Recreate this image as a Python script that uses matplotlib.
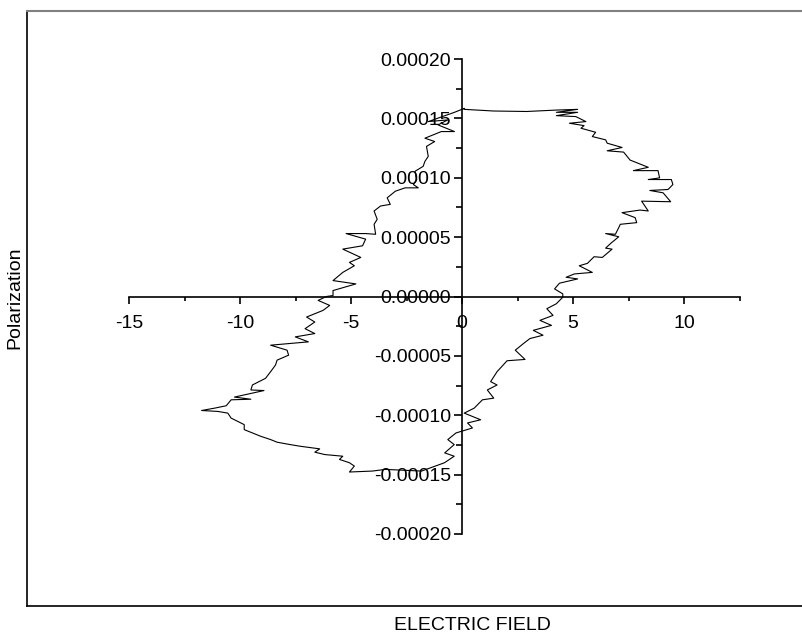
import matplotlib
matplotlib.use("Agg")
import matplotlib.pyplot as plt
from matplotlib.ticker import MultipleLocator, FormatStrFormatter
from matplotlib.lines import Line2D

plt.rcParams['font.family'] = ['Liberation Sans', 'DejaVu Sans']
plt.rcParams['axes.unicode_minus'] = False

# - hysteresis loop (field, polarization) - #
field = [
    0.10, 1.43, 2.91, 4.25, 5.21, 4.25, 5.21, 4.25, 5.13, 5.58, 4.84, 5.50, 5.36, 6.02, 5.87,
    6.47, 6.54, 7.21, 6.54, 7.28, 7.57, 8.39, 7.72, 8.83, 8.90, 8.39, 9.43, 9.50, 9.28, 8.46,
    9.06, 9.40, 8.09, 8.39, 8.02, 7.21, 7.80, 7.87, 7.13, 7.06, 6.91, 6.47, 7.06, 6.69, 6.47,
    6.76, 6.32, 5.95, 5.65, 5.28, 5.87, 5.06, 4.69, 5.21, 4.39, 4.17, 4.54,
    4.54, 4.25, 3.82, 4.10, 3.51, 4.03, 3.21, 3.65, 3.06, 2.77, 2.40, 2.84, 2.03, 1.58,
    1.29, 1.58, 1.14, 1.43, 0.92, 0.55, 0.10, 0.84, 0.25, 0.47, -0.27, -0.64, -0.35, -0.78, -0.35,
    -0.79, -1.82, -3.45, -4.04, -5.07, -4.85, -5.07, -5.52, -5.37, -6.18, -6.63, -6.41, -7.29,
    -7.74, -8.33, -8.62, -9.07, -9.81, -9.81, -10.40, -10.55, -10.99, -11.73, -11.14, -10.62,
    -10.40, -9.51, -10.25, -8.92, -9.51, -9.44, -8.85, -8.62, -8.40, -8.33, -7.81, -7.88, -8.62,
    -6.92, -7.51, -6.63, -7.07, -6.63, -7.00, -6.26, -5.96, -6.48, -6.11,
    -5.81, -5.81, -4.78, -5.81, -5.37, -4.85, -5.07, -4.56, -5.37, -4.48, -4.34, -5.22, -4.34,
    -3.89, -3.96, -3.82, -3.96, -3.67, -3.23, -3.37, -3.00, -2.56, -1.97, -2.19, -2.04, -2.12,
    -1.75, -1.67, -1.52, -1.60, -1.23, -1.67, -0.93, -0.34, -1.08, -0.64, -1.52, -0.34, 0.10,
]
polarization = [
    15.76e-5, 15.62e-5, 15.58e-5, 15.70e-5, 15.76e-5, 15.51e-5, 15.51e-5, 15.23e-5, 15.15e-5,
    14.73e-5, 14.59e-5, 14.39e-5, 14.17e-5, 13.83e-5, 13.47e-5, 13.19e-5, 12.91e-5, 12.55e-5,
    12.27e-5, 12.16e-5, 11.49e-5, 10.88e-5, 10.60e-5, 10.60e-5, 9.99e-5, 9.85e-5, 9.85e-5,
    9.43e-5, 9.01e-5, 8.93e-5, 8.73e-5, 7.98e-5, 8.03e-5, 7.20e-5, 7.28e-5, 7.06e-5, 6.64e-5,
    6.22e-5, 6.08e-5, 5.80e-5, 5.24e-5, 5.30e-5, 5.03e-5, 4.46e-5, 4.07e-5, 3.99e-5, 3.29e-5,
    3.35e-5, 2.79e-5, 2.59e-5, 2.03e-5, 1.90e-5, 1.62e-5, 1.48e-5, 1.12e-5, 0.64e-5, 0.22e-5,
    -0.06e-5, -0.61e-5, -1.03e-5, -1.59e-5, -2.01e-5, -2.43e-5, -2.85e-5, -3.26e-5, -3.54e-5,
    -3.96e-5, -4.52e-5, -5.30e-5, -5.41e-5, -6.33e-5, -7.17e-5, -7.45e-5, -7.87e-5, -8.56e-5,
    -8.70e-5, -9.40e-5, -9.82e-5, -10.38e-5, -10.65e-5, -11.07e-5, -11.49e-5, -12.05e-5,
    -12.47e-5, -13.17e-5, -13.45e-5,
    -14.00e-5, -14.70e-5, -14.56e-5, -14.70e-5, -14.78e-5, -14.28e-5, -14.00e-5, -13.72e-5,
    -13.45e-5, -13.31e-5, -13.11e-5, -12.83e-5, -12.61e-5, -12.47e-5, -12.27e-5, -12.05e-5,
    -11.77e-5, -11.21e-5, -10.79e-5, -10.24e-5, -9.82e-5, -9.68e-5, -9.60e-5, -9.40e-5,
    -9.20e-5, -8.70e-5, -8.65e-5, -8.47e-5, -7.92e-5, -7.87e-5, -7.45e-5, -6.89e-5, -6.33e-5,
    -5.77e-5, -5.36e-5, -4.94e-5, -4.52e-5, -4.10e-5, -3.82e-5, -3.40e-5, -3.12e-5, -2.71e-5,
    -2.15e-5, -1.73e-5, -1.17e-5, -0.75e-5, -0.33e-5, 0.00,
    0.08e-5, 0.50e-5, 1.06e-5, 1.34e-5, 2.03e-5, 2.59e-5, 2.87e-5, 3.29e-5, 3.99e-5, 4.27e-5,
    4.83e-5, 5.30e-5, 5.30e-5, 5.24e-5, 6.08e-5, 6.50e-5, 7.20e-5, 7.62e-5, 7.76e-5, 8.31e-5,
    8.87e-5, 9.15e-5, 9.15e-5, 9.43e-5, 9.85e-5, 10.54e-5, 10.96e-5, 11.38e-5, 11.80e-5,
    12.64e-5, 13.05e-5, 13.33e-5, 13.89e-5, 13.89e-5, 14.45e-5, 14.87e-5, 14.73e-5, 15.51e-5,
    15.84e-5,
]

fig = plt.figure(figsize=(8.02, 6.35), dpi=100)
ax = fig.add_axes([129 / 802, 1 - 534 / 635, (739.5 - 129) / 802, (534 - 59) / 635])

ax.plot(field, polarization, color='black', linewidth=0.8)

ax.set_xlim(-15, 12.5)
ax.set_ylim(-0.0002, 0.0002)

# axes crossing at the origin
ax.spines['left'].set_position(('data', 0))
ax.spines['bottom'].set_position(('data', 0))
ax.spines['top'].set_visible(False)
ax.spines['right'].set_visible(False)
for s in ('left', 'bottom'):
    ax.spines[s].set_linewidth(1.2)

ax.xaxis.set_major_locator(MultipleLocator(5))
ax.xaxis.set_minor_locator(MultipleLocator(2.5))
ax.yaxis.set_major_locator(MultipleLocator(0.00005))
ax.yaxis.set_minor_locator(MultipleLocator(0.000025))
ax.yaxis.set_major_formatter(FormatStrFormatter('%.5f'))
ax.xaxis.set_major_formatter(FormatStrFormatter('%g'))

ax.tick_params(axis='x', which='major', direction='out', length=5, width=1.2, labelsize=14, pad=8)
ax.tick_params(axis='x', which='minor', direction='out', length=3, width=1.2)
ax.tick_params(axis='y', which='major', direction='out', length=6, width=1.2, labelsize=14, pad=2)
ax.tick_params(axis='y', which='minor', direction='out', length=4, width=1.2)
ax.patch.set_visible(False)

# - outer frame - #
fig.add_artist(Line2D([27 / 802, 27 / 802], [1 - 10.5 / 635, 1 - 606 / 635],
                      transform=fig.transFigure, color='black', linewidth=1.2))
fig.add_artist(Line2D([27 / 802, 1.0], [1 - 10.5 / 635, 1 - 10.5 / 635],
                      transform=fig.transFigure, color='#808080', linewidth=1.5))
fig.add_artist(Line2D([27 / 802, 1.0], [1 - 606 / 635, 1 - 606 / 635],
                      transform=fig.transFigure, color='black', linewidth=1.2))

fig.text(472 / 802, 1 - 625 / 635, "ELECTRIC FIELD", ha='center', va='center', fontsize=14)
fig.text(15 / 802, 1 - 298 / 635, "Polarization", ha='center', va='center', rotation=90, fontsize=14)

fig.savefig("out.png", dpi=100)
